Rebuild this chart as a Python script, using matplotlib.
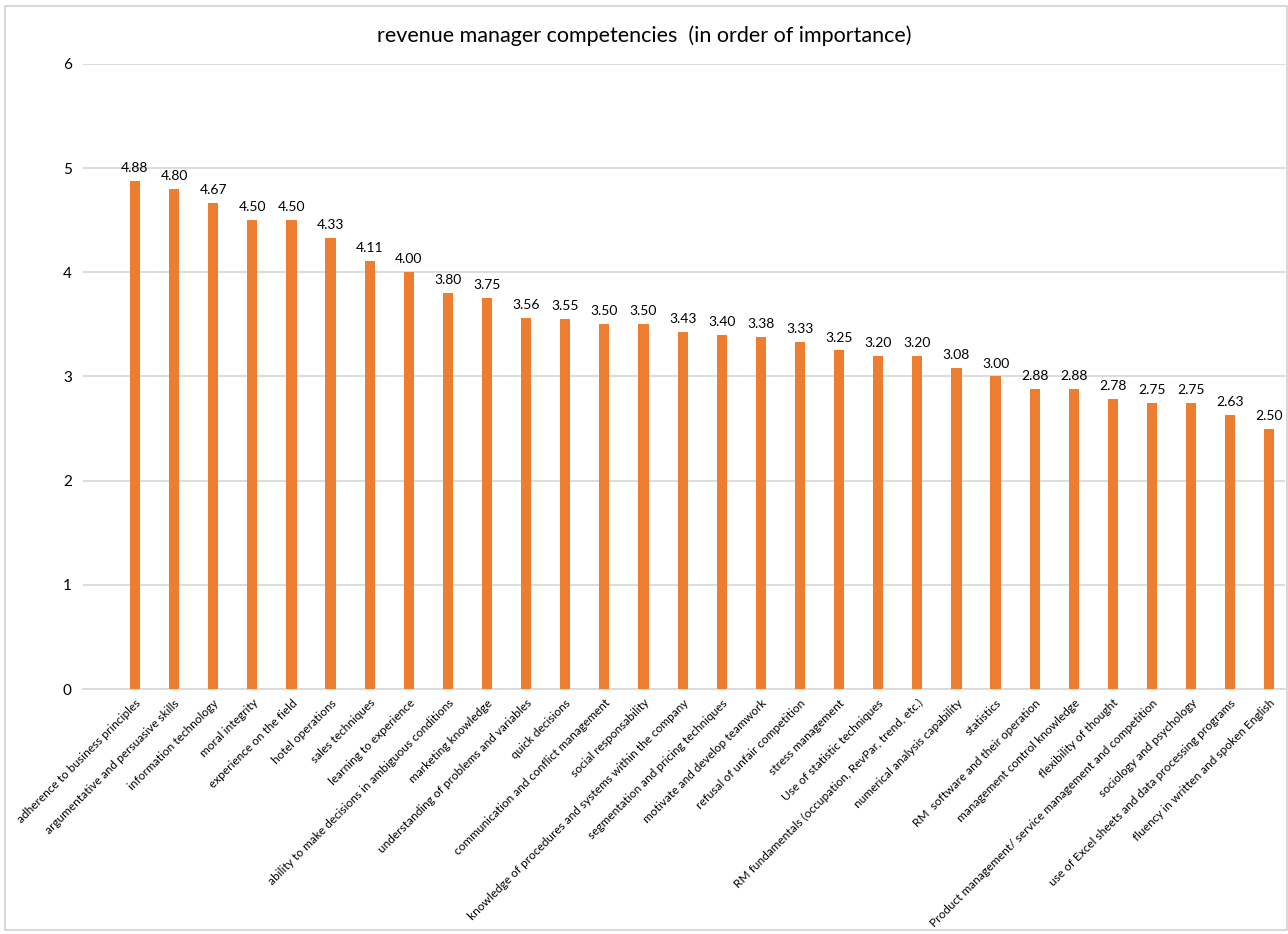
import numpy as np
import matplotlib
matplotlib.use("Agg")
import matplotlib.pyplot as plt

plt.rcParams['font.family'] = ['Lato', 'DejaVu Sans']

competencies = [
    "adherence to business principles",
    "argumentative and persuasive skills",
    "information technology",
    "moral integrity",
    "experience on the field",
    "hotel operations",
    "sales techniques",
    "learning to experience",
    "ability to make decisions in ambiguous conditions",
    "marketing knowledge",
    "understanding of problems and variables",
    "quick decisions",
    "communication and conflict management",
    "social responsability",
    "knowledge of procedures and systems within the company",
    "segmentation and pricing techniques",
    "motivate and develop teamwork",
    "refusal of unfair competition",
    "stress management",
    "Use of statistic techniques",
    "RM fundamentals (occupation, RevPar, trend, etc.)",
    "numerical analysis capability",
    "statistics",
    "RM  software and their operation",
    "management control knowledge",
    "flexibility of thought",
    "Product management/ service management and competition",
    "sociology and psychology",
    "use of Excel sheets and data processing programs",
    "fluency in written and spoken English",
]
scores = [4.88, 4.80, 4.67, 4.50, 4.50, 4.33, 4.11, 4.00, 3.80, 3.75,
          3.56, 3.55, 3.50, 3.50, 3.43, 3.40, 3.38, 3.33, 3.25, 3.20,
          3.20, 3.08, 3.00, 2.88, 2.88, 2.78, 2.75, 2.75, 2.63, 2.50]
yticks = [0, 1, 2, 3, 4, 5, 6]

fig = plt.figure(figsize=(12.88, 9.34), dpi=100)
ax = fig.add_axes([0.0644, 0.2623, 0.9333, 0.6692])

x = np.arange(len(scores))
bars = ax.bar(x, scores, width=0.26, color='#ED7D31', zorder=3)
for xi, v in zip(x, scores):
    ax.annotate(f"{v:.2f}", (xi, v), xytext=(0, 5), textcoords='offset points',
                ha='center', va='bottom', fontsize=10, color='#000000')

ax.set_xlim(-1.33, 29.4)
ax.set_ylim(0, 6)
ax.set_yticks(yticks)
ax.set_yticklabels([str(t) for t in yticks], fontsize=11)
ax.yaxis.grid(True, color='#d9d9d9', linewidth=1.3, zorder=0)
ax.set_xticks(x)
ax.set_xticklabels(competencies, rotation=45, ha='right', rotation_mode='anchor',
                   fontsize=8.6)
ax.tick_params(axis='both', length=0, pad=8)
ax.tick_params(axis='x', pad=6)
for s in ['top', 'right', 'left']:
    ax.spines[s].set_visible(False)
ax.spines['bottom'].set_color('#d9d9d9')
ax.spines['bottom'].set_linewidth(1.3)

fig.text(0.5, 0.962, "revenue manager competencies  (in order of importance)",
         ha='center', va='center', fontsize=15.5)

# chart border
fig.patches.append(plt.Rectangle((0.004, 0.004), 0.995, 0.99, transform=fig.transFigure,
                                 fill=False, edgecolor='#d9d9d9', linewidth=1.5))

fig.savefig("out.png", dpi=100)
